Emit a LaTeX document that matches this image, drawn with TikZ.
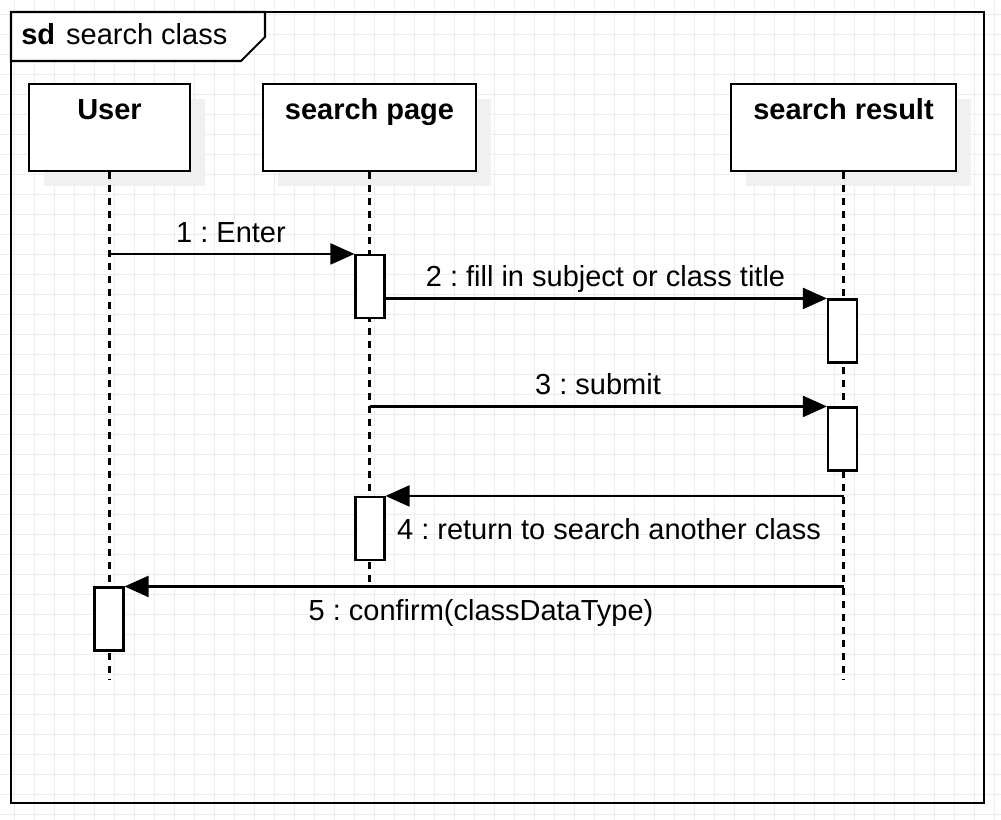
\documentclass[tikz,border=0pt]{standalone}
\usepackage{fontspec}
\setmainfont{Liberation Sans}
\usetikzlibrary{arrows.meta,shadows}
\frenchspacing

\tikzset{
  gridline/.style={draw=black!7, line width=0.55pt},
  umlline/.style={line width=1.2pt},
  headbox/.style={umlline, draw, fill=white, inner sep=0pt,
    minimum height=1.74cm,
    drop shadow={shadow xshift=0.3cm, shadow yshift=-0.3cm, fill=black!6, opacity=1}},
  actbox/.style={umlline, draw, fill=white, inner sep=0pt,
    minimum width=0.58cm, minimum height=1.26cm},
  lifeline/.style={line width=1.4pt, dash pattern=on 4pt off 3.4pt},
  msg/.style={umlline, -{Triangle[length=0.48cm, width=0.42cm]}},
  msgtext/.style={anchor=base, inner sep=0pt}
}

\begin{document}
\begin{tikzpicture}[x=0.02cm, y=-0.02cm, font=\fontsize{16.5}{20}\selectfont]
\useasboundingbox (0,0) rectangle (1001,820);

% background grid
\foreach \gx in {14,34,...,994} \draw[gridline] (\gx,0) -- (\gx,820);
\foreach \gy in {14,34,...,814} \draw[gridline] (0,\gy) -- (1001,\gy);

% frame
\draw[umlline] (11,12) rectangle (984,803);
\draw[umlline, fill=white] (11,12) -- (265,12) -- (265,37) -- (241,61) -- (11,61) -- cycle;
\node[anchor=base west, inner sep=0pt] (sdtitle) at (21,45) {\textbf{sd}\hspace{0.22cm}search class};

% lifeline heads
\node[headbox, minimum width=3.22cm, label={[anchor=base, yshift=-0.74cm]north:\textbf{User}}] (user) at (109.5,127.5) {};
\node[headbox, minimum width=4.26cm, label={[anchor=base, yshift=-0.74cm]north:\textbf{search page}}] (page) at (369.5,127.5) {};
\node[headbox, minimum width=4.5cm, label={[anchor=base, yshift=-0.74cm]north:\textbf{search result}}] (result) at (843.5,127.5) {};

\coordinate (userend) at (109.5,680);
\coordinate (pageend) at (369.5,586);
\coordinate (resultend) at (843.5,680);

\draw[lifeline] (user.south) -- (userend);
\draw[lifeline] (page.south) -- (pageend);
\draw[lifeline] (result.south) -- (resultend);

% activations
\node[actbox] (a1) at (370,286.5) {};
\node[actbox] (a2) at (842.5,331) {};
\node[actbox] (a3) at (842.5,439) {};
\node[actbox] (a4) at (370,528.5) {};
\node[actbox] (a5) at (109,619) {};

% messages
\draw[msg] (user |- a1.north) -- (a1.north west);
\draw[msg] (a1.east |- a2.north) -- (a2.north west);
\draw[msg] (page |- a3.north) -- (a3.north west);
\draw[msg] (result |- a4.north) -- (a4.north east);
\draw[msg] (result |- a5.north) -- (a5.north east);

\node[msgtext] (m1) at (231,243) {1 : Enter};
\node[msgtext] (m2) at (605.5,287) {2 : fill in subject or class title};
\node[msgtext] (m3) at (598,395) {3 : submit};
\node[msgtext] (m4) at (609,540) {4 : return to search another class};
\node[msgtext] (m5) at (481,621) {5 : confirm(classDataType)};
\end{tikzpicture}
\end{document}
